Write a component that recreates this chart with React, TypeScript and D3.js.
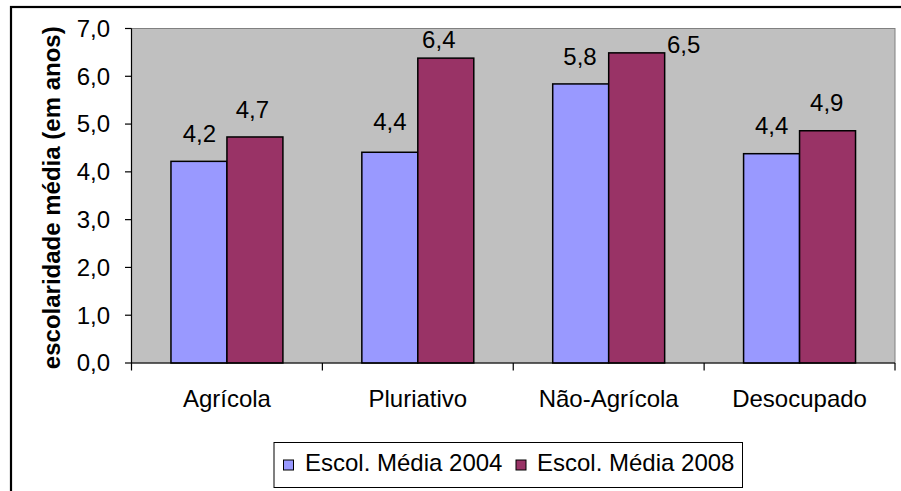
import React from "react";
import * as d3 from "d3";

const categories = ["Agrícola", "Pluriativo", "Não-Agrícola", "Desocupado"];
const seriesNames = ["Escol. Média 2004", "Escol. Média 2008"];
const values2004 = [4.22, 4.41, 5.84, 4.38];
const values2008 = [4.73, 6.38, 6.49, 4.86];
const yTicks = [0, 1, 2, 3, 4, 5, 6, 7];
const colors = ["#9999FF", "#993366"];

// manual label placements (dx from bar centre, dy of baseline from bar top)
const labelOffsets = [
  [[0.5, -19], [-2.5, -19.4]],
  [[0, -22.5], [-7, -10]],
  [[-0.7, -19.3], [47, 0]],
  [[0, -20], [-0.8, -19.3]],
];

const W = 901;
const H = 491;
const plotL = 131.5;
const plotR = 895;
const plotT = 28.5;
const plotB = 363;
const FONT = "Liberation Sans, Arial, sans-serif";

export default function App() {
  const seriesValues = [values2004, values2008];
  const x0 = d3.scaleBand<string>().domain(categories).range([plotL, plotR]).paddingInner(0).paddingOuter(0);
  const x1 = d3
    .scaleBand<string>()
    .domain(seriesNames)
    .range([0, x0.bandwidth()])
    .paddingInner(0)
    .paddingOuter(0.705);
  const y = d3.scaleLinear().domain([0, 7]).range([plotB, plotT]);
  const fmt = (v: number) => v.toFixed(1).replace(".", ",");

  const legendItems = [
    { name: seriesNames[0], sq: 283.5, tx: 305 },
    { name: seriesNames[1], sq: 516, tx: 537 },
  ];

  return (
    <div style={{ position: "absolute", left: 0, top: 0 }}>
      <svg width={W} height={H} style={{ display: "block", fontFamily: FONT }}>
        <rect x={0} y={0} width={W} height={H} fill="#fff" />
        {/* outer chart border */}
        <rect x={11} y={7} width={W + 20} height={H + 20} fill="none" stroke="#000" strokeWidth={2.2} />
        {/* plot area */}
        <rect x={plotL} y={plotT} width={plotR - plotL} height={plotB - plotT} fill="#C0C0C0" stroke="#808080" strokeWidth={1} />
        {/* bars */}
        {categories.map((c, ci) =>
          seriesNames.map((s, si) => {
            const v = seriesValues[si][ci];
            const bx = (x0(c) as number) + (x1(s) as number);
            return (
              <rect
                key={c + s}
                x={bx}
                y={y(v)}
                width={x1.bandwidth()}
                height={plotB - y(v)}
                fill={colors[si]}
                stroke="#000"
                strokeWidth={1.5}
              />
            );
          })
        )}
        {/* y axis */}
        <line x1={plotL} x2={plotL} y1={plotT} y2={plotB} stroke="#000" strokeWidth={1.2} />
        {yTicks.map((t) => (
          <g key={t}>
            <line x1={plotL - 6.5} x2={plotL} y1={y(t)} y2={y(t)} stroke="#000" strokeWidth={1.2} />
            <text x={110} y={y(t)} dy="0.35em" textAnchor="end" fontSize={24} fill="#000">
              {fmt(t)}
            </text>
          </g>
        ))}
        {/* x axis */}
        <line x1={plotL} x2={plotR} y1={plotB} y2={plotB} stroke="#000" strokeWidth={1.2} />
        {categories.map((c) => (
          <line key={"t" + c} x1={x0(c) as number} x2={x0(c) as number} y1={plotB} y2={plotB + 7.5} stroke="#000" strokeWidth={1.2} />
        ))}
        <line x1={plotR} x2={plotR} y1={plotB} y2={plotB + 7.5} stroke="#000" strokeWidth={1.2} />
        {categories.map((c) => (
          <text key={"l" + c} x={(x0(c) as number) + x0.bandwidth() / 2} y={406.5} textAnchor="middle" fontSize={24} fill="#000">
            {c}
          </text>
        ))}
        {/* value labels */}
        {categories.map((c, ci) =>
          seriesNames.map((s, si) => {
            const v = seriesValues[si][ci];
            const cx = (x0(c) as number) + (x1(s) as number) + x1.bandwidth() / 2;
            const [dx, dy] = labelOffsets[ci][si];
            return (
              <text key={"v" + c + s} x={cx + dx} y={y(v) + dy} textAnchor="middle" fontSize={24} fill="#000">
                {fmt(v)}
              </text>
            );
          })
        )}
        {/* y title */}
        <text
          transform={`translate(60, ${(plotT + plotB) / 2 + 2}) rotate(-90)`}
          textAnchor="middle"
          fontSize={24}
          fontWeight="bold"
          fill="#000"
        >
          escolaridade média (em anos)
        </text>
        {/* legend */}
        <rect x={274} y={442.5} width={468.5} height={45} fill="#fff" stroke="#000" strokeWidth={1} />
        {legendItems.map((it, i) => (
          <g key={it.name}>
            <rect x={it.sq} y={460} width={10} height={10} fill={colors[i]} stroke="#000" strokeWidth={1} />
            <text x={it.tx} y={470.5} fontSize={24} fill="#000">
              {it.name}
            </text>
          </g>
        ))}
      </svg>
    </div>
  );
}
